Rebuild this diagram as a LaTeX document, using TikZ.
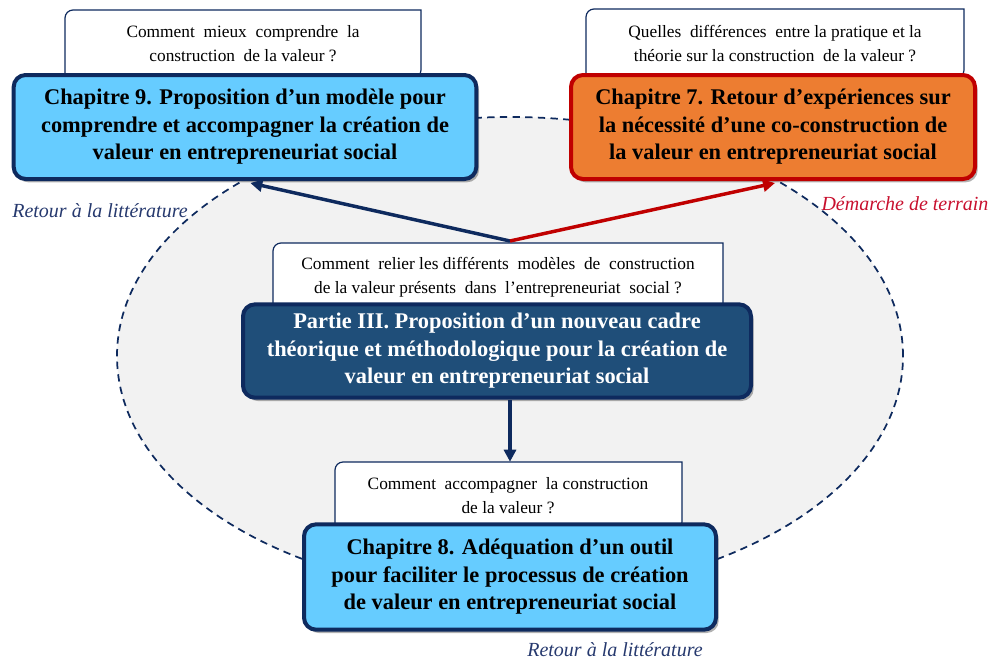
\documentclass[tikz,border=0pt]{standalone}
\usepackage{fontspec}
\setmainfont{Liberation Serif}
\usetikzlibrary{arrows.meta,shadows}
\definecolor{navy}{HTML}{0E2A5E}
\definecolor{lblue}{HTML}{66CCFF}
\definecolor{dblue}{HTML}{1F4E79}
\definecolor{orng}{HTML}{ED7D31}
\definecolor{dred}{HTML}{C00000}
\definecolor{lgray}{HTML}{F2F2F2}
\definecolor{lblnavy}{HTML}{26396E}
\definecolor{lblred}{HTML}{C8102E}
\tikzset{
  mainbox/.style={draw=navy, line width=3pt, rounded corners=9pt, align=center,
    font=\fontsize{16.8}{20.6}\selectfont\bfseries, inner sep=0pt,
    drop shadow={shadow xshift=2pt, shadow yshift=-2.5pt, opacity=0.3, fill=black}},
  qshape/.style={draw=navy, line width=0.9pt, fill=white},
  qtext/.style={align=center, font=\fontsize{13}{18}\selectfont, inner sep=0pt},
  lbl/.style={font=\fontsize{15}{17}\selectfont\itshape, inner sep=0pt},
  conn/.style={line width=2.6pt, -{Triangle[length=9pt,width=9pt]}}
}
\newcommand{\qboxpath}[4]{%
  \path[qshape] (#1,#4) -- (#1,#2+8) arc[start angle=180,end angle=90,radius=6pt]
    -- (#3,#2) -- (#3,#4-8) arc[start angle=0,end angle=-90,radius=6pt] -- cycle;}
\begin{document}
\begin{tikzpicture}[x=0.75pt,y=-0.75pt]
\useasboundingbox (0,0) rectangle (988,661);
% ellipse background
\path[fill=lgray, draw=navy, line width=1.3pt, dash pattern=on 5.5pt off 4pt]
  (510,356) ellipse [x radius=294.75pt, y radius=179.25pt];
% question boxes (behind main boxes)
\qboxpath{65}{10}{421}{78}
\node[qtext, minimum width=267pt, minimum height=51pt] (q9) at (243,44)
  {Comment\ \ mieux\ \ comprendre\ \ la\\construction\ \ de\ la\ valeur ?};
\qboxpath{586}{9}{964}{78}
\node[qtext, minimum width=283pt, minimum height=51pt] (q7) at (775,44)
  {Quelles\ \ différences\ \ entre\ la\ pratique\ et\ la\\théorie\ sur\ la\ construction\ \ de\ la\ valeur ?};
\qboxpath{273}{243}{723}{312}
\node[qtext, minimum width=337pt, minimum height=51pt] (qc) at (498,277)
  {Comment\ \ relier les\ différents\ \ modèles\ \ de\ \ construction\\de la valeur\ présents\ \ dans\ \ l’entrepreneuriat\ \ social ?};
\qboxpath{335}{462}{682}{530}
\node[qtext, minimum width=260pt, minimum height=51pt] (q8) at (508,496)
  {Comment\ \ accompagner\ \ la\ construction\\de la valeur ?};
% main boxes
\node[mainbox, fill=lblue, minimum width=347pt, minimum height=78pt] (ch9) at (245,127)
  {Chapitre 9. Proposition d’un modèle pour\\comprendre et accompagner la création de\\valeur en entrepreneuriat social};
\node[mainbox, fill=orng, draw=dred, minimum width=303pt, minimum height=78pt] (ch7) at (773,127)
  {Chapitre 7. Retour d’expériences sur\\la nécessité d’une co-construction de\\la valeur en entrepreneuriat social};
\node[mainbox, fill=dblue, text=white, minimum width=381pt, minimum height=70pt] (p3) at (497,351)
  {Partie III. Proposition d’un nouveau cadre\\théorique et méthodologique pour la création de\\valeur en entrepreneuriat social};
\node[mainbox, fill=lblue, minimum width=309pt, minimum height=79pt] (ch8) at (510,577)
  {Chapitre 8. Adéquation d’un outil\\pour faciliter le processus de création\\de valeur en entrepreneuriat social};
% connectors
\coordinate (j) at (510,241);
\draw[conn, draw=navy, fill=navy] (j) -- ([xshift=4pt,yshift=-1.5pt]ch9.south);
\draw[conn, draw=dred, fill=dred] (j) -- ([xshift=1.5pt,yshift=-1.5pt]ch7.south);
\draw[conn, draw=navy, fill=navy] ([xshift=9.75pt]p3.south) -- ([xshift=1.5pt]q8.north);
% labels
\node[lbl, text=lblnavy] (l1) at (100,211) {Retour à la littérature};
\node[lbl, text=lblred] (l2) at (905,204) {Démarche de terrain};
\node[lbl, text=lblnavy] (l3) at (615,650) {Retour à la littérature};
\end{tikzpicture}
\end{document}
